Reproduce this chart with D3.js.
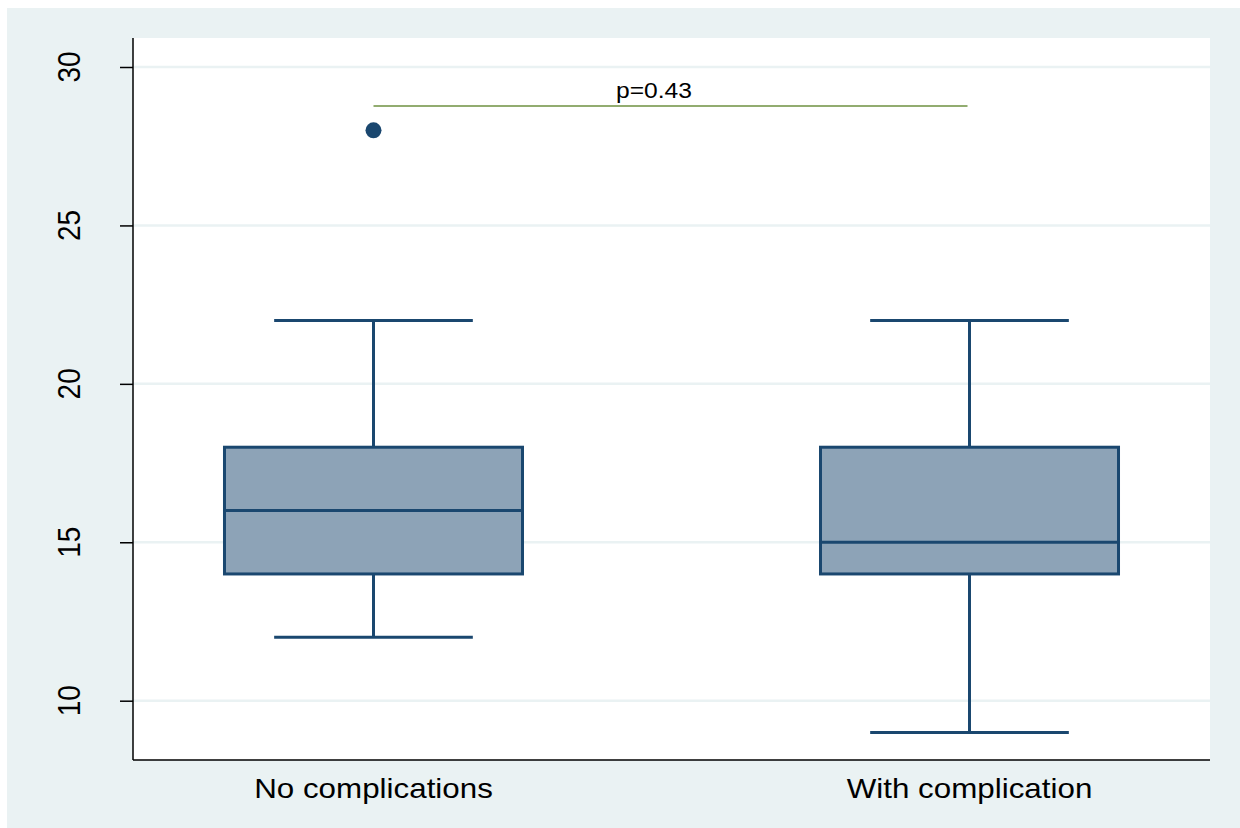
<!DOCTYPE html>
<html><head><meta charset="utf-8">
<script src="https://cdn.jsdelivr.net/npm/d3@7"></script>
<style>body{margin:0;background:#fff}svg{display:block}</style>
</head><body>
<svg id="c" width="1240" height="828"></svg>
<script>
const categories = ["No complications", "With complication"];
const mins = [12, 9];
const q1s = [14, 14];
const medians = [16, 15];
const q3s = [18, 18];
const maxs = [22, 22];
const outliers = [[28], []];
const yTicks = [10, 15, 20, 25, 30];
const pLabel = "p=0.43";
const pLevel = 28.77;

const svg = d3.select("#c");
const L = 133, R = 1210, T = 38, B = 760;
const sx = 1.12;
const navy = "#1a476f";

svg.append("rect").attr("x", 7).attr("y", 8).attr("width", 1240).attr("height", 820).attr("fill", "#eaf2f3");
svg.append("rect").attr("x", L).attr("y", T).attr("width", R - L).attr("height", B - T).attr("fill", "#fff");

const y = d3.scaleLinear().domain([10, 30]).range([700.7, 67]);
const x = d3.scalePoint().domain(categories).range([L, R]).padding(0.4035);
const step = x.step();

// gridlines
svg.append("g").selectAll("line").data(yTicks).join("line")
  .attr("x1", L).attr("x2", R).attr("y1", d => y(d)).attr("y2", d => y(d))
  .attr("stroke", "#eaf2f3").attr("stroke-width", 2.5);

// axes
const yAxis = d3.axisLeft(y).tickValues(yTicks).tickSize(13).tickFormat("");
const gy = svg.append("g").attr("transform", `translate(${L},0)`).call(yAxis);
gy.select(".domain").remove();
gy.selectAll(".tick line").attr("stroke", "#000").attr("stroke-width", 1.5);
svg.append("line").attr("x1", L).attr("x2", L).attr("y1", T).attr("y2", B).attr("stroke", "#000").attr("stroke-width", 1.5);
svg.append("line").attr("x1", L).attr("x2", R).attr("y1", B).attr("y2", B).attr("stroke", "#000").attr("stroke-width", 1.5);

// y tick labels (rotated)
svg.append("g").selectAll("text").data(yTicks).join("text")
  .attr("transform", d => `translate(80,${y(d)}) scale(${sx},1) rotate(-90)`)
  .attr("text-anchor", "middle")
  .attr("font-family", "Liberation Sans, Arial, sans-serif")
  .attr("font-size", 28).attr("fill", "#000")
  .text(d => d);

// x labels
svg.append("g").selectAll("text").data(categories).join("text")
  .attr("transform", d => `translate(${x(d)},797.5) scale(${sx},1)`)
  .attr("text-anchor", "middle")
  .attr("font-family", "Liberation Sans, Arial, sans-serif")
  .attr("font-size", 28).attr("fill", "#000")
  .text(d => d);

const boxW = step * 0.5, capW = step / 3;
const g = svg.append("g");
categories.forEach((c, i) => {
  const cx = x(c);
  const gg = g.append("g");
  gg.append("line").attr("x1", cx).attr("x2", cx).attr("y1", y(q3s[i])).attr("y2", y(maxs[i])).attr("stroke", navy).attr("stroke-width", 3);
  gg.append("line").attr("x1", cx).attr("x2", cx).attr("y1", y(q1s[i])).attr("y2", y(mins[i])).attr("stroke", navy).attr("stroke-width", 3);
  gg.append("line").attr("x1", cx - capW / 2).attr("x2", cx + capW / 2).attr("y1", y(maxs[i])).attr("y2", y(maxs[i])).attr("stroke", navy).attr("stroke-width", 3);
  gg.append("line").attr("x1", cx - capW / 2).attr("x2", cx + capW / 2).attr("y1", y(mins[i])).attr("y2", y(mins[i])).attr("stroke", navy).attr("stroke-width", 3);
  gg.append("rect").attr("x", cx - boxW / 2).attr("width", boxW)
    .attr("y", y(q3s[i])).attr("height", y(q1s[i]) - y(q3s[i]))
    .attr("fill", "#8da3b7").attr("stroke", navy).attr("stroke-width", 3);
  gg.append("line").attr("x1", cx - boxW / 2).attr("x2", cx + boxW / 2).attr("y1", y(medians[i])).attr("y2", y(medians[i])).attr("stroke", navy).attr("stroke-width", 3);
  gg.selectAll("circle").data(outliers[i]).join("circle")
    .attr("cx", cx).attr("cy", d => y(d)).attr("r", 8).attr("fill", navy);
});

// p-value bracket
svg.append("line").attr("x1", x(categories[0])).attr("x2", x(categories[1]) - 2)
  .attr("y1", y(pLevel)).attr("y2", y(pLevel)).attr("stroke", "#6e9040").attr("stroke-width", 1.5);
svg.append("text").attr("transform", `translate(654,97.5) scale(${sx},1)`)
  .attr("text-anchor", "middle")
  .attr("font-family", "Liberation Sans, Arial, sans-serif")
  .attr("font-size", 22).attr("fill", "#000").text(pLabel);
</script>
</body></html>
